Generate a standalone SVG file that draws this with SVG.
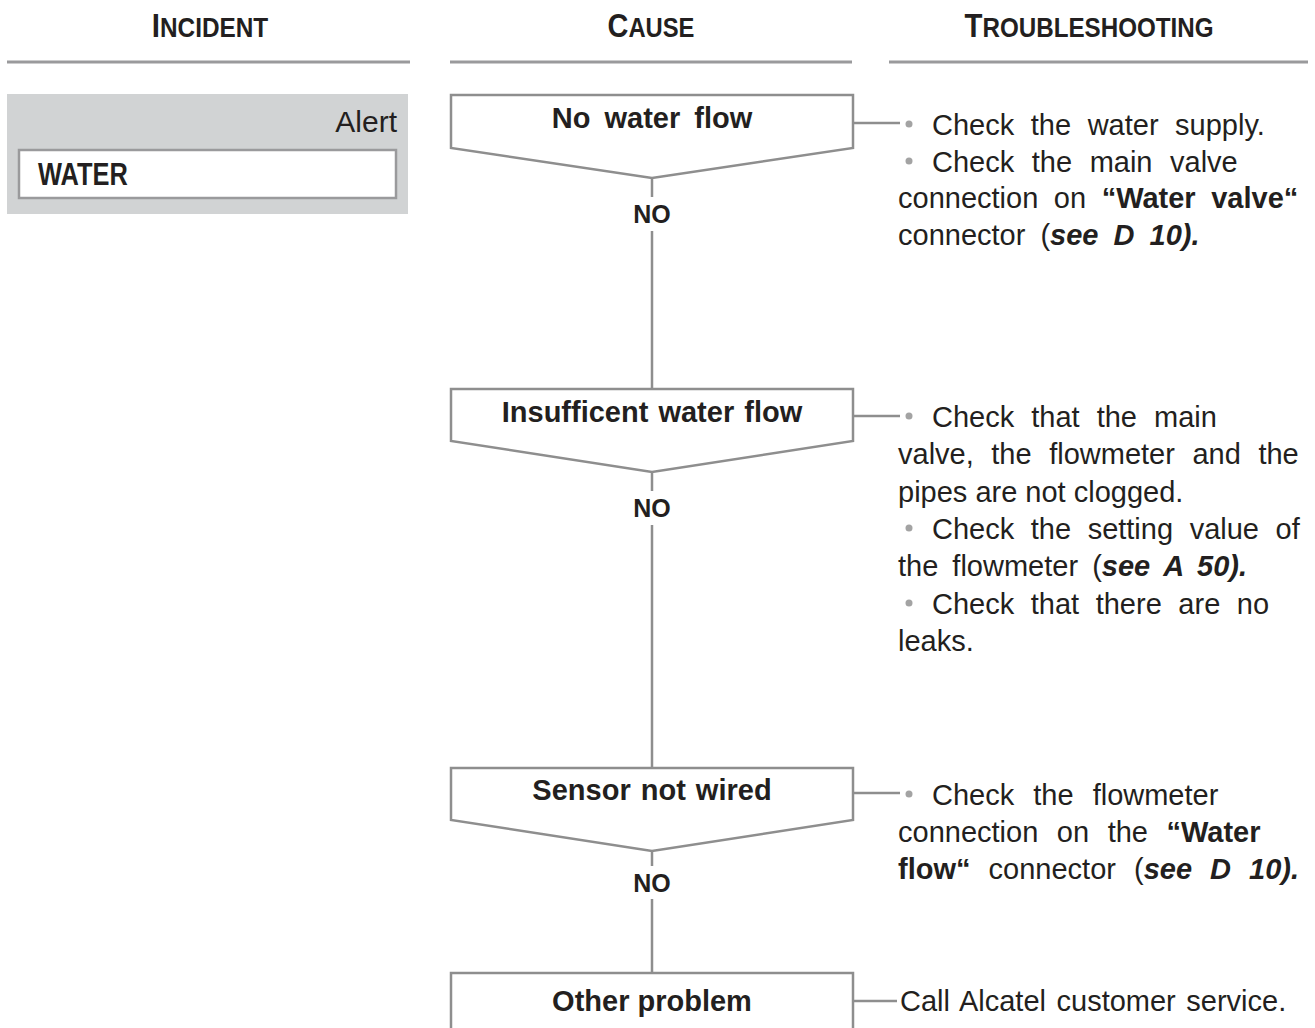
<svg xmlns="http://www.w3.org/2000/svg" width="1315" height="1028" viewBox="0 0 1315 1028">
  <style>
    .hdr { font-family: "Liberation Sans", Arial, sans-serif; font-weight: bold; fill: #231f20; text-anchor: middle; }
    .rule { stroke: #9a9a9c; stroke-width: 3; fill: none; }
    .shape { stroke: #8e8e8e; stroke-width: 2.5; fill: #ffffff; }
    .conn { stroke: #8e8e8e; stroke-width: 2.5; fill: none; }
    .lbl { font-family: "Liberation Sans", Arial, sans-serif; font-weight: bold; font-size: 29px; fill: #231f20; text-anchor: middle; }
    .no { font-family: "Liberation Sans", Arial, sans-serif; font-weight: bold; font-size: 25px; fill: #231f20; text-anchor: middle; }
    .ts { font-family: "Liberation Sans", Arial, sans-serif; font-size: 29px; fill: #231f20; }
    .b { font-weight: bold; }
    .bi { font-weight: bold; font-style: italic; }
    .dot { fill: #a3a3a3; }
  </style>

  <g id="headers">
    <text class="hdr" transform="translate(210,37) scale(0.87,1)"><tspan font-size="34">I</tspan><tspan font-size="28">NCIDENT</tspan></text>
    <text class="hdr" transform="translate(651,37) scale(0.85,1)"><tspan font-size="34">C</tspan><tspan font-size="28">AUSE</tspan></text>
    <text class="hdr" transform="translate(1089,37) scale(0.864,1)"><tspan font-size="34">T</tspan><tspan font-size="28">ROUBLESHOOTING</tspan></text>
    <line class="rule" x1="7" y1="62" x2="410" y2="62"/>
    <line class="rule" x1="450" y1="62" x2="852" y2="62"/>
    <line class="rule" x1="889" y1="62" x2="1308" y2="62"/>
  </g>

  <g id="alert">
    <rect x="7" y="94" width="401" height="120" fill="#d1d3d4"/>
    <rect x="19" y="150" width="377" height="48" fill="#ffffff" stroke="#9a9a9c" stroke-width="2.5"/>
    <text x="397" y="132" text-anchor="end" font-family="Liberation Sans, Arial, sans-serif" font-size="30" fill="#231f20">Alert</text>
    <text transform="translate(38,185) scale(0.82,1)" font-family="Liberation Sans, Arial, sans-serif" font-weight="bold" font-size="31" fill="#231f20">WATER</text>
  </g>

  <g id="connectors">
    <line class="conn" x1="652" y1="178" x2="652" y2="197"/>
    <line class="conn" x1="652" y1="231" x2="652" y2="389"/>
    <line class="conn" x1="652" y1="472" x2="652" y2="491"/>
    <line class="conn" x1="652" y1="525" x2="652" y2="768"/>
    <line class="conn" x1="652" y1="851" x2="652" y2="866"/>
    <line class="conn" x1="652" y1="899" x2="652" y2="973"/>
    <line class="conn" x1="853" y1="123" x2="900" y2="123"/>
    <line class="conn" x1="853" y1="416" x2="900" y2="416"/>
    <line class="conn" x1="853" y1="793" x2="900" y2="793"/>
    <line class="conn" x1="853" y1="1001" x2="897" y2="1001"/>
    <text class="no" x="652" y="223">NO</text>
    <text class="no" x="652" y="517">NO</text>
    <text class="no" x="652" y="892">NO</text>
  </g>

  <g id="node-no-water-flow">
    <polygon class="shape" points="451,95 853,95 853,148 652,178 451,148"/>
    <text class="lbl" x="652" y="128" word-spacing="6">No water flow</text>
  </g>

  <g id="node-insufficient">
    <polygon class="shape" points="451,389 853,389 853,441 652,472 451,441"/>
    <text class="lbl" x="652" y="422" word-spacing="2">Insufficent water flow</text>
  </g>

  <g id="node-sensor">
    <polygon class="shape" points="451,768 853,768 853,820 652,851 451,820"/>
    <text class="lbl" x="652" y="800" word-spacing="2">Sensor not wired</text>
  </g>

  <g id="node-other">
    <polyline class="shape" points="451,1032 451,973 853,973 853,1032"/>
    <text class="lbl" x="652" y="1011" font-size="28">Other problem</text>
  </g>

  <g id="ts-1">
    <circle class="dot" cx="909" cy="124" r="3.5"/>
    <text class="ts" x="932" y="135" word-spacing="8.5">Check the water supply.</text>
    <circle class="dot" cx="909" cy="161" r="3.5"/>
    <text class="ts" x="932" y="172" word-spacing="9.5">Check the main valve</text>
    <text class="ts" x="898" y="208" word-spacing="7.5">connection on <tspan class="b">“Water valve“</tspan></text>
    <text class="ts" x="898" y="245" word-spacing="7">connector (<tspan class="bi">see D 10).</tspan></text>
  </g>

  <g id="ts-2">
    <circle class="dot" cx="909" cy="416" r="3.5"/>
    <text class="ts" x="932" y="427" word-spacing="9">Check that the main</text>
    <text class="ts" x="898" y="464" word-spacing="9.5">valve, the flowmeter and the</text>
    <text class="ts" x="898" y="502">pipes are not clogged.</text>
    <circle class="dot" cx="909" cy="528" r="3.5"/>
    <text class="ts" x="932" y="539" word-spacing="8.5">Check the setting value of</text>
    <text class="ts" x="898" y="576" word-spacing="6">the flowmeter (<tspan class="bi">see A 50).</tspan></text>
    <circle class="dot" cx="909" cy="603" r="3.5"/>
    <text class="ts" x="932" y="614" word-spacing="8.5">Check that there are no</text>
    <text class="ts" x="898" y="651">leaks.</text>
  </g>

  <g id="ts-3">
    <circle class="dot" cx="909" cy="794" r="3.5"/>
    <text class="ts" x="932" y="805" word-spacing="11">Check the flowmeter</text>
    <text class="ts" x="898" y="842" word-spacing="10.5">connection on the <tspan class="b">“Water</tspan></text>
    <text class="ts" x="898" y="879" word-spacing="10"><tspan class="b">flow“</tspan> connector (<tspan class="bi">see D 10).</tspan></text>
  </g>

  <g id="ts-4">
    <text class="ts" x="900" y="1011" word-spacing="2.5">Call Alcatel customer service.</text>
  </g>
</svg>
